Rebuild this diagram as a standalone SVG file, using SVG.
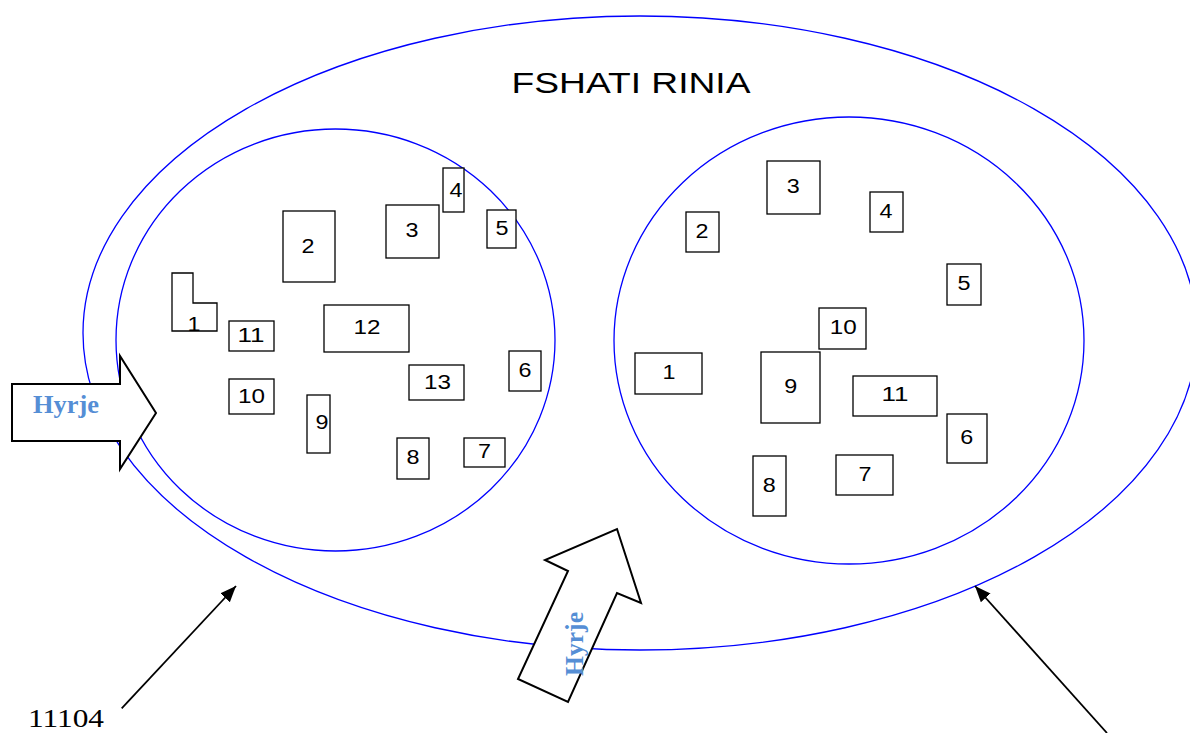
<svg xmlns="http://www.w3.org/2000/svg" width="1190" height="733" viewBox="0 0 1190 733">
<style>
.ell{fill:none;stroke:#0000FF;stroke-width:1.3}
.b{fill:#fff;stroke:#000;stroke-width:1.3}
.n{font-family:"Liberation Sans",Arial,sans-serif;font-size:19.5px;fill:#000;text-anchor:middle}
.blk{fill:#fff;stroke:#000;stroke-width:2}
.hy{font-family:"Liberation Serif","Times New Roman",serif;font-weight:bold;font-size:25px;fill:#558ED5}
.ln{stroke:#000;stroke-width:1.8;fill:none}
</style>
<defs>
<marker id="ah" markerWidth="18" markerHeight="14" refX="16" refY="6.5" orient="auto" markerUnits="userSpaceOnUse">
<path d="M0,0 L16,6.5 L0,13 Z" fill="#000"/>
</marker>
</defs>
<rect width="1190" height="733" fill="#fff"/>
<g id="village">
<ellipse class="ell" cx="640" cy="333" rx="557" ry="317"/>
<text x="631" y="93" font-family="'Liberation Sans',Arial,sans-serif" font-size="29" text-anchor="middle" textLength="239" lengthAdjust="spacingAndGlyphs">FSHATI RINIA</text>
</g>
<g id="zone-left">
<ellipse class="ell" cx="335.5" cy="340" rx="219.5" ry="211"/>
</g>
<g id="zone-right">
<ellipse class="ell" cx="849" cy="340.5" rx="235" ry="223.5"/>
</g>
<g id="left-buildings">
<g id="L1"><path class="b" d="M172,273 H193 V303 H217 V331 H172 Z"/><text class="n" x="194" y="331" textLength="13" lengthAdjust="spacingAndGlyphs">1</text></g>
<g id="L2"><rect class="b" x="283" y="211" width="52" height="71"/><text class="n" x="308" y="252.5" textLength="13" lengthAdjust="spacingAndGlyphs">2</text></g>
<g id="L3"><rect class="b" x="386" y="205" width="53" height="53"/><text class="n" x="412" y="237.3" textLength="13" lengthAdjust="spacingAndGlyphs">3</text></g>
<g id="L4"><rect class="b" x="443" y="168" width="21" height="44"/><text class="n" x="456" y="197" textLength="13" lengthAdjust="spacingAndGlyphs">4</text></g>
<g id="L5"><rect class="b" x="487" y="210" width="29" height="38"/><text class="n" x="502" y="235.3" textLength="13" lengthAdjust="spacingAndGlyphs">5</text></g>
<g id="L6"><rect class="b" x="509" y="351" width="32" height="40"/><text class="n" x="525" y="376.7" textLength="13" lengthAdjust="spacingAndGlyphs">6</text></g>
<g id="L7"><rect class="b" x="464" y="438" width="41" height="29"/><text class="n" x="484.5" y="457.7" textLength="13" lengthAdjust="spacingAndGlyphs">7</text></g>
<g id="L8"><rect class="b" x="397" y="438" width="32" height="41"/><text class="n" x="413" y="464" textLength="13" lengthAdjust="spacingAndGlyphs">8</text></g>
<g id="L9"><rect class="b" x="307" y="395" width="23" height="58"/><text class="n" x="322" y="429.3" textLength="13" lengthAdjust="spacingAndGlyphs">9</text></g>
<g id="L10"><rect class="b" x="229" y="379" width="45" height="35"/><text class="n" x="251.5" y="402.7" textLength="27" lengthAdjust="spacingAndGlyphs">10</text></g>
<g id="L11"><rect class="b" x="229" y="321" width="45" height="30"/><text class="n" x="251" y="342" textLength="27" lengthAdjust="spacingAndGlyphs">11</text></g>
<g id="L12"><rect class="b" x="324" y="305" width="85" height="47"/><text class="n" x="367" y="334" textLength="27" lengthAdjust="spacingAndGlyphs">12</text></g>
<g id="L13"><rect class="b" x="409" y="365" width="55" height="35"/><text class="n" x="437.5" y="388.7" textLength="27" lengthAdjust="spacingAndGlyphs">13</text></g>
</g>
<g id="right-buildings">
<g id="R1"><rect class="b" x="635" y="353" width="67" height="41"/><text class="n" x="669" y="379.3" textLength="13" lengthAdjust="spacingAndGlyphs">1</text></g>
<g id="R2"><rect class="b" x="686" y="212" width="33" height="40"/><text class="n" x="702" y="237.7" textLength="13" lengthAdjust="spacingAndGlyphs">2</text></g>
<g id="R3"><rect class="b" x="767" y="161" width="53" height="53"/><text class="n" x="793.3" y="193.3" textLength="13" lengthAdjust="spacingAndGlyphs">3</text></g>
<g id="R4"><rect class="b" x="870" y="192" width="33" height="40"/><text class="n" x="886" y="217.7" textLength="13" lengthAdjust="spacingAndGlyphs">4</text></g>
<g id="R5"><rect class="b" x="947" y="264" width="34" height="41"/><text class="n" x="964" y="290" textLength="13" lengthAdjust="spacingAndGlyphs">5</text></g>
<g id="R6"><rect class="b" x="947" y="414" width="40" height="49"/><text class="n" x="966.7" y="444" textLength="13" lengthAdjust="spacingAndGlyphs">6</text></g>
<g id="R7"><rect class="b" x="836" y="455" width="57" height="40"/><text class="n" x="865" y="481" textLength="13" lengthAdjust="spacingAndGlyphs">7</text></g>
<g id="R8"><rect class="b" x="753" y="456" width="33" height="60"/><text class="n" x="769.3" y="491.7" textLength="13" lengthAdjust="spacingAndGlyphs">8</text></g>
<g id="R9"><rect class="b" x="761" y="352" width="59" height="71"/><text class="n" x="790.7" y="393.3" textLength="13" lengthAdjust="spacingAndGlyphs">9</text></g>
<g id="R10"><rect class="b" x="819" y="308" width="47" height="41"/><text class="n" x="843.3" y="334.3" textLength="27" lengthAdjust="spacingAndGlyphs">10</text></g>
<g id="R11"><rect class="b" x="853" y="376" width="84" height="40"/><text class="n" x="895" y="401" textLength="27" lengthAdjust="spacingAndGlyphs">11</text></g>
</g>
<g id="entrance-left">
<path class="blk" d="M12,384 H120 V356 L156,413 L120,469 V441 H12 Z"/>
<text class="hy" x="33" y="413" textLength="66" lengthAdjust="spacingAndGlyphs">Hyrje</text>
</g>
<g id="entrance-bottom">
<path class="blk" d="M617,529 L641,603 L617,593 L568,702 L518,679 L568,571 L545,560 Z"/>
<text class="hy" transform="translate(583,644) rotate(-90)" x="0" y="0" text-anchor="middle" textLength="64" lengthAdjust="spacingAndGlyphs">Hyrje</text>
</g>
<g id="label-11104">
<text x="28" y="727" font-family="'Liberation Serif','Times New Roman',serif" font-size="26" textLength="76" lengthAdjust="spacingAndGlyphs">11104</text>
</g>
<g id="connectors">
<line class="ln" x1="121.7" y1="708.3" x2="236" y2="586" marker-end="url(#ah)"/>
<line class="ln" x1="1107" y1="733" x2="975" y2="586" marker-end="url(#ah)"/>
</g>
</svg>
